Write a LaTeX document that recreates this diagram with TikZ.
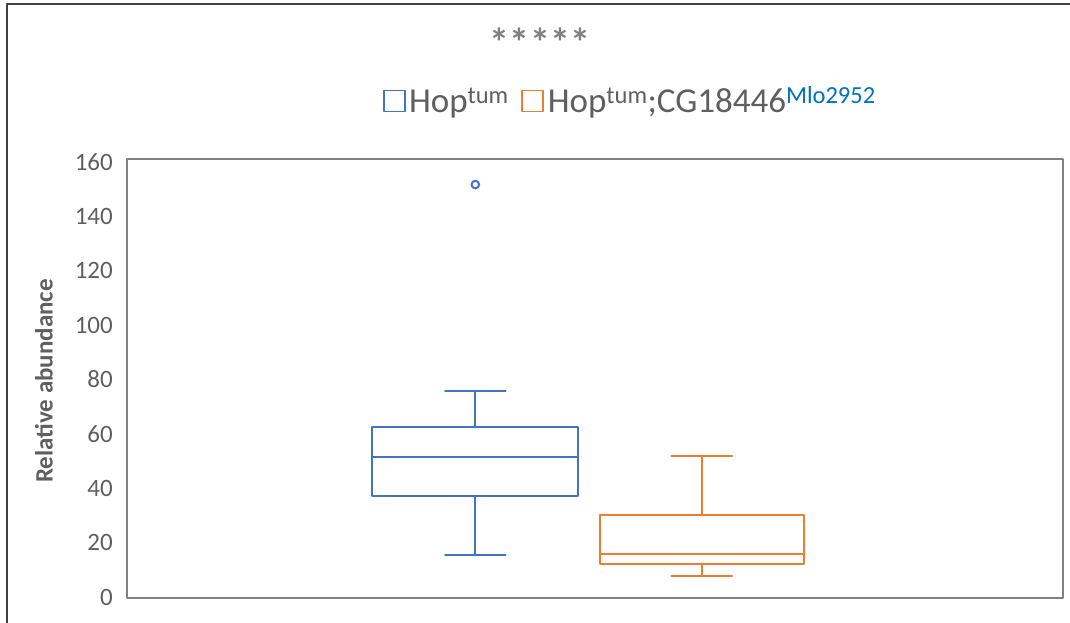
\documentclass[tikz,border=0pt]{standalone}
\usepackage{fontspec}
\setmainfont{Carlito}
\usetikzlibrary{positioning}
\definecolor{hopblue}{HTML}{4472C4}
\definecolor{hoporange}{HTML}{ED7D31}
\definecolor{txtgray}{HTML}{5F5F5F}
\definecolor{supblue}{HTML}{0070C0}
\tikzset{
  tick/.style={anchor=east, text=txtgray, font=\fontsize{25}{30}\selectfont, inner sep=0pt},
  legbox/.style={draw=#1, line width=1.6pt, minimum size=21pt, inner sep=0pt},
  legtext/.style={text=txtgray, font=\fontsize{35}{40}\selectfont, inner sep=0pt, anchor=base west}
}
\begin{document}
\begin{tikzpicture}[x=1pt, y=1pt, line join=round, line cap=round]
  \useasboundingbox (-127,-25) rectangle (943,598);
  % outer frame
  \draw[line width=2pt, black!75] (-119.5,-30) -- (-119.5,594) -- (950,594);
  % plot area
  \draw[line width=1.3pt, black!50] (0,0) rectangle (936,439);
  \foreach \v in {0,20,...,160}
    \node[tick] (t\v) at (-14,{2.72*\v+1}) {\v};
  \node[rotate=90, font=\fontsize{25}{30}\selectfont\bfseries, text=txtgray] (ytitle) at (-83,217) {Relative abundance};
  % stars
  \node[text=black!50, font=\fontsize{40}{40}\selectfont\bfseries] (stars) at (413,556)
    {*\hspace{0.5pt}*\hspace{0.5pt}*\hspace{0.5pt}*\hspace{0.5pt}*};
  % legend
  \node[legbox=hopblue] (lb1) at (267.5,497) {};
  \node[legtext] (lt1) at ([xshift=3pt]lb1.south east) {Hop\textsuperscript{tum}};
  \node[legbox=hoporange, anchor=south west] (lb2) at ([xshift=12pt]lt1.base east) {};
  \node[legtext] (lt2) at ([xshift=4pt]lb2.south east) {Hop\textsuperscript{tum};CG18446\textsuperscript{\color{supblue}Mlo2952}};
  % boxes
  \begin{scope}[y=2.72pt, line width=2pt]
    % Hop tum
    \coordinate (Alo) at (348.3,15.8);
    \coordinate (Ahi) at (348.3,76);
    \coordinate (Aq1) at (348.3,37.5);
    \coordinate (Aq3) at (348.3,63);
    \draw[hopblue] (245.3,37.5) rectangle (451,63);
    \draw[hopblue] (245.3,52) -- (451,52);
    \draw[hopblue] (Aq1) -- (Alo) (Aq3) -- (Ahi);
    \draw[hopblue] ([xshift=-30.3pt]Alo) -- ([xshift=30.3pt]Alo);
    \draw[hopblue] ([xshift=-30.3pt]Ahi) -- ([xshift=30.3pt]Ahi);
    \draw[hopblue] (348.3,152) circle (3.8pt);
    % Hop tum ; CG18446
    \coordinate (Blo) at (574.7,8.1);
    \coordinate (Bhi) at (574.7,52.2);
    \coordinate (Bq1) at (574.7,12.6);
    \coordinate (Bq3) at (574.7,30.4);
    \draw[hoporange] (473,12.6) rectangle (676.7,30.4);
    \draw[hoporange] (473,16.3) -- (676.7,16.3);
    \draw[hoporange] (Bq1) -- (Blo) (Bq3) -- (Bhi);
    \draw[hoporange] ([xshift=-30.3pt]Blo) -- ([xshift=30.3pt]Blo);
    \draw[hoporange] ([xshift=-30.3pt]Bhi) -- ([xshift=30.3pt]Bhi);
  \end{scope}
\end{tikzpicture}
\end{document}
